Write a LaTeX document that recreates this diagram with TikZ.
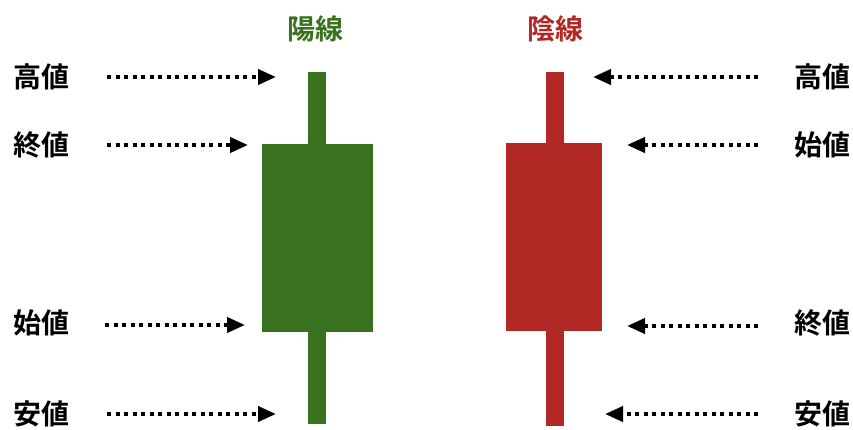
\documentclass[tikz,border=0pt]{standalone}
\usepackage{fontspec}
\newfontfamily\jp{Noto Sans CJK JP}[BoldFont={Noto Sans CJK JP Bold}]
\usetikzlibrary{arrows.meta}
\definecolor{upgreen}{HTML}{38721F}
\definecolor{downred}{HTML}{B22825}
\begin{document}
\begin{tikzpicture}[x=1pt,y=-1pt,
  lbl/.style={font=\jp\bfseries\fontsize{28}{28}\selectfont, inner sep=0pt},
  ptr/.style={line width=4pt, dash pattern=on 4pt off 4.5pt, -{Triangle[length=18pt,width=15pt]}}]
\useasboundingbox (0,0) rectangle (853,429);
% green candle
\fill[upgreen] (308,72) rectangle (326,424);
\fill[upgreen] (262,144) rectangle (373,332);
% red candle
\fill[downred] (546,72) rectangle (564,426);
\fill[downred] (506,143) rectangle (602,331);
% titles
\node[lbl, text=upgreen] (tup) at (315,29) {陽線};
\node[lbl, text=downred] (tdn) at (555,29) {陰線};
% left labels
\node[lbl] (lh) at (41,77) {高値};
\node[lbl] (lc) at (41,145) {終値};
\node[lbl] (lo) at (41,323) {始値};
\node[lbl] (ll) at (41,414) {安値};
% right labels
\node[lbl] (rh) at (822,77) {高値};
\node[lbl] (ro) at (822,145) {始値};
\node[lbl] (rc) at (822,323) {終値};
\node[lbl] (rl) at (822,414) {安値};
% arrow endpoints
\coordinate (a1s) at (107,77); \coordinate (a1e) at (276,77);
\coordinate (a2s) at (107,145); \coordinate (a2e) at (248,145);
\coordinate (a3s) at (105,325); \coordinate (a3e) at (245,325);
\coordinate (a4s) at (107,414); \coordinate (a4e) at (276,414);
\coordinate (b1s) at (758,77); \coordinate (b1e) at (593,77);
\coordinate (b2s) at (758,145); \coordinate (b2e) at (627,145);
\coordinate (b3s) at (758,326); \coordinate (b3e) at (627,326);
\coordinate (b4s) at (758,414); \coordinate (b4e) at (605,414);
\draw[ptr] (a1s) -- (a1e);
\draw[ptr] (a2s) -- (a2e);
\draw[ptr] (a3s) -- (a3e);
\draw[ptr] (a4s) -- (a4e);
\draw[ptr] (b1s) -- (b1e);
\draw[ptr] (b2s) -- (b2e);
\draw[ptr] (b3s) -- (b3e);
\draw[ptr] (b4s) -- (b4e);
\end{tikzpicture}
\end{document}
